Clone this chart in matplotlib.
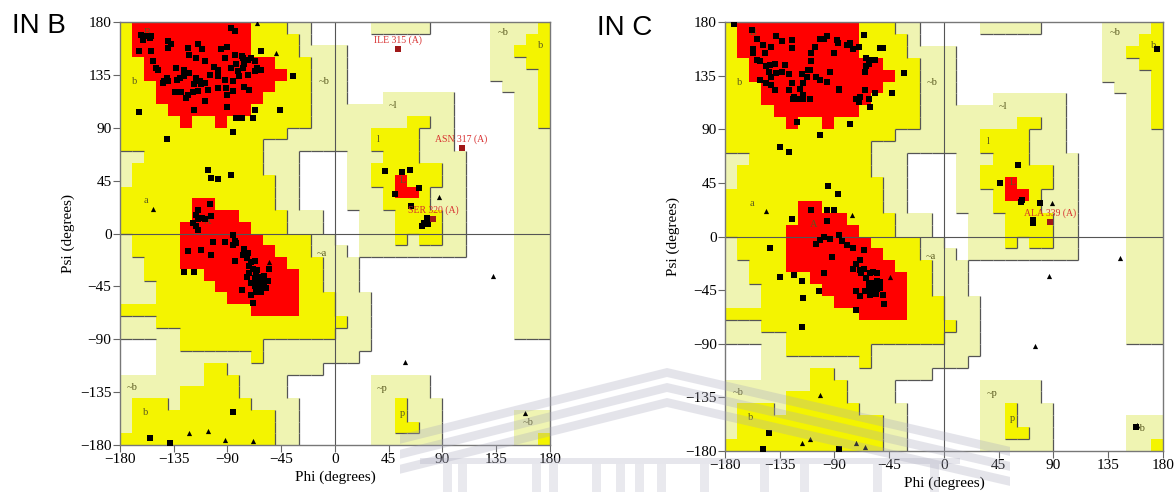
import numpy as np
import matplotlib.pyplot as plt
from matplotlib.colors import ListedColormap
from matplotlib.collections import LineCollection

# Ramachandran region map, 10 degree cells.
# top row is psi 170..180, columns run phi -180..180
# 0 disallowed, 1 generously allowed, 2 additionally allowed, 3 most favoured
region_rows = [
    "233333333332221100" "000111110000011112",
    "233333333332222100" "000000000000011122",
    "233333333332222111" "100000000000011222",
    "223333333333322211" "100000000000011122",
    "223333333333332211" "100000000000011112",
    "222333333333322211" "100000000000001112",
    "222333333333222211" "100011111100000112",
    "222233333332222211" "111111111100000112",
    "222223223222222211" "111111221100000112",
    "222222222222221111" "111222211100000111",
    "222222222222111111" "111222211100000111",
    "112222222222111000" "011122211110000111",
    "122222222222111000" "011222222110000111",
    "122222222222211000" "011223222110000111",
    "222222222222211000" "011123321110000111",
    "222222332222211000" "011122221110000111",
    "222222333322221110" "001112222110000111",
    "222223333332221110" "001112222110000111",
    "122223333333222211" "001112122110000111",
    "122223333333322211" "101111111110000111",
    "112223333333332221" "110000000000000111",
    "112222233333333221" "110000000000000111",
    "111222223333333221" "110000000000000111",
    "111222222333333222" "111000000000000111",
    "222222222223333222" "111000000000000111",
    "111222222222222222" "211000000000000111",
    "111112222222222222" "111000000000000111",
    "000112222222111111" "111000000000000000",
    "000111111112111111" "110000000000000000",
    "000111122111111110" "000000000000000000",
    "111111122211110000" "000111110000000000",
    "111112222211110000" "000111110000000000",
    "122212222221111000" "000112111000000000",
    "122222222222211000" "000112111000000111",
    "122222222222211000" "000112211000000111",
    "222222222222211000" "000111111000000112",
]
region_colors = ["#ffffff", "#eff4b2", "#f4f400", "#ff0000"]

# region letters (text, phi, psi)
region_text = ["B", "b", "~b", "a", "A", "~a", "~b", "b",
               "~l", "l", "L", "~b", "b", "~p", "p", "~b"]
region_phi = [-160, -170, -14, -160, -110, -15, -174, -161,
              45, 35, 54, 136, 170, 35, 54, 157]
region_psi = [171, 129, 129, 28, 10, -17, -131, -152,
              109, 80, 45, 171, 160, -132, -153, -161]

# IN B : residues (phi, psi)
b_squares = [
    (-162, 169), (-158, 168), (-155, 166), (-161, 165), (-154, 168), (-164, 155),
    (-154, 155), (-152, 147), (-150, 141), (-148, 139), (-143, 130), (-144, 128),
    (-140, 164), (-137, 161), (-140, 158), (-123, 158), (-115, 161), (-111, 157),
    (-122, 152), (-116, 149), (-109, 147), (-133, 141), (-126, 139), (-122, 137),
    (-116, 132), (-113, 130), (-112, 127), (-109, 128), (-118, 127), (-119, 120),
    (-115, 121), (-123, 118), (-129, 120), (-132, 131), (-134, 120), (-140, 130),
    (-141, 132), (-130, 132), (-126, 134), (-105, 135), (-98, 134), (-92, 131),
    (-91, 124), (-85, 130), (-85, 121), (-76, 125), (-72, 122), (-90, 118),
    (-98, 124), (-106, 122), (-109, 113), (-118, 105), (-125, 115), (-87, 175),
    (-84, 172), (-95, 157), (-90, 159), (-84, 152), (-78, 151), (-77, 149),
    (-73, 148), (-70, 149), (-67, 147), (-62, 155), (-65, 141), (-62, 139),
    (-67, 138), (-73, 135), (-76, 144), (-77, 141), (-81, 138), (-80, 134),
    (-101, 142), (-98, 139), (-87, 141), (-83, 144), (-92, 149), (-90, 108),
    (-83, 98), (-78, 98), (-69, 98), (-67, 105), (-46, 105), (-35, 134),
    (-164, 103), (-141, 80), (-85, 86), (-106, 54), (-104, 47), (-98, 46),
    (-87, 50), (-115, 20), (-116, 16), (-115, 12), (-119, 9), (-111, 13),
    (-109, 12), (-116, 6), (-105, 25), (-104, 15),
    (-115, 3), (-85, -1), (-84, -6), (-102, -7), (-92, -7), (-112, -14),
    (-104, -18), (-123, -15), (-126, -33), (-118, -33), (-84, -23), (-85, -10),
    (-83, -8), (-76, -13), (-73, -17), (-77, -18), (-74, -21), (-70, -24),
    (-67, -23), (-72, -28), (-69, -30), (-65, -31), (-72, -34), (-66, -35),
    (-63, -37), (-67, -38), (-62, -40), (-59, -41), (-65, -42), (-60, -44),
    (-63, -47), (-59, -45), (-67, -45), (-62, -50), (-66, -50), (-55, -30),
    (-78, -48), (-69, -59), (-70, -52), (-56, -40), (-70, -42), (-74, -37),
    (-62, -44), (-60, -40), (-64, -38), (-58, -46), (-65, -48), (-61, -42),
    (-57, -40), (-63, -50), (-59, -36), (-66, -42),
    (-85, -152), (-155, -174), (-138, -178),
    (42, 53), (56, 52), (63, 54), (50, 34), (70, 39), (64, 23),
    (77, 13), (73, 6), (78, 8), (75, 9),
]
b_triangles = [
    (-65, 179), (-49, 154), (-152, 21), (-122, -170), (-106, -168), (-92, -176),
    (-69, -177), (-55, -24), (87, 31), (132, -36), (59, -109), (159, -153),
]
b_label_names = ["ILE 315 (A)", "ASN 317 (A)", "SER 320 (A)"]
b_label_phi = [53, 106, 82]
b_label_psi = [157, 73, 12]

# IN C : residues (phi, psi)
c_squares = [
    (-173, 178), (-158, 173), (-154, 166), (-157, 157), (-157, 154), (-149, 161),
    (-142, 159), (-147, 154), (-154, 148), (-151, 147), (-146, 143), (-143, 144),
    (-139, 145), (-144, 138), (-142, 134), (-138, 137), (-133, 138), (-131, 144),
    (-138, 168), (-133, 164), (-125, 165), (-125, 158), (-151, 131), (-146, 129),
    (-142, 127), (-139, 123), (-127, 136), (-125, 129), (-127, 123), (-123, 117),
    (-118, 124), (-116, 129), (-117, 136), (-110, 140), (-109, 147), (-109, 154),
    (-106, 159), (-102, 166), (-99, 166), (-96, 168), (-88, 165), (-87, 162),
    (-90, 154), (-80, 161), (-77, 162), (-75, 157), (-70, 159), (-66, 169),
    (-64, 150), (-62, 145), (-65, 138), (-64, 143), (-61, 148), (-57, 148),
    (-53, 158), (-57, 120), (-62, 115), (-61, 109), (-70, 113), (-72, 115),
    (-69, 117), (-65, 123), (-86, 124), (-86, 123), (-94, 138), (-96, 130),
    (-105, 134), (-102, 131), (-110, 115), (-116, 115), (-120, 115), (-124, 115),
    (-116, 119), (-113, 134), (-112, 140), (-121, 96), (-102, 85), (-77, 94),
    (-50, 158), (-43, 120), (-33, 137), (-135, 75), (-127, 71), (-95, 42),
    (-87, 36), (-109, 22), (-96, 22), (-90, 22), (-96, 13), (-125, 15),
    (-143, -10), (-135, -34), (-123, -32), (-117, -37), (-116, -52), (-117, -76),
    (-103, -46), (-99, -31), (-92, -17), (-105, -6), (-102, -3), (-99, 0),
    (-94, -2), (-84, -4), (-80, -7), (-75, -10), (-66, -11), (-69, -20),
    (-72, -23), (-75, -27), (-69, -28), (-68, -31), (-64, -35), (-62, -39),
    (-59, -42), (-58, -45), (-55, -41), (-53, -43), (-57, -48), (-61, -49),
    (-65, -46), (-72, -46), (-69, -50), (-58, -30), (-55, -31), (-50, -49),
    (-49, -57), (-72, -62), (-86, 1), (-55, -37), (-61, -31), (-53, -38),
    (-66, -27), (-57, -42), (-59, -45), (-61, -43), (-55, -44), (-58, -39),
    (-60, -47), (-62, -41), (-56, -48),
    (-144, -165), (-149, -178), (-86, -178),
    (61, 60), (46, 45), (63, 29), (64, 31), (79, 28), (73, 14), (73, 11),
    (175, 157), (158, -160),
]
c_triangles = [
    (-146, 21), (-76, 18), (-102, -133), (-117, -173), (-110, -170), (-72, -173),
    (-65, -177), (-44, -34), (89, 28), (145, -18), (86, -33), (75, -92), (159, -158),
]
c_label_names = ["ALA 339 (A)"]
c_label_phi = [87]
c_label_psi = [12]

ticks = [-180, -135, -90, -45, 0, 45, 90, 135, 180]

serif = "Liberation Serif"
plt.rcParams['font.family'] = serif

grid = np.array([[int(ch) for ch in row] for row in region_rows])
edges = np.arange(-180, 181, 10)


def region_lines(g):
    segs = []
    n = g.shape[0]
    for lev in (1, 2):
        inside = g >= lev
        for r in range(n):
            top = 180 - 10 * r
            for k in range(n):
                left = -180 + 10 * k
                if not inside[r, k]:
                    continue
                if k + 1 < n and not inside[r, k + 1]:
                    segs.append([(left + 10, top - 10), (left + 10, top)])
                if r + 1 < n and not inside[r + 1, k]:
                    segs.append([(left, top - 10), (left + 10, top - 10)])
    return segs


def panel(ax, squares, triangles, names, lphi, lpsi):
    ax.pcolormesh(edges, edges, grid[::-1], cmap=ListedColormap(region_colors),
                  vmin=-0.5, vmax=3.5, shading='flat', zorder=0)
    ax.add_collection(LineCollection(region_lines(grid), colors='#555555',
                                     linewidths=0.9, zorder=1))
    ax.axhline(0, color='#555555', lw=0.8, zorder=1)
    ax.axvline(0, color='#555555', lw=0.8, zorder=1)
    for t, x, y in zip(region_text, region_phi, region_psi):
        ax.text(x, y, t, fontsize=7.5, color='#5a5a20', ha='left', va='center', zorder=2)
    sq = np.array(squares)
    tr = np.array(triangles)
    ax.scatter(sq[:, 0], sq[:, 1], marker='s', s=13, color='black', lw=0, zorder=3)
    ax.scatter(tr[:, 0], tr[:, 1], marker='^', s=14, color='black', lw=0, zorder=3)
    ax.scatter(lphi, lpsi, marker='s', s=13, color='#a01818', lw=0, zorder=3)
    for nm, x, y in zip(names, lphi, lpsi):
        ax.annotate(nm, (x, y), xytext=(0, 3), textcoords='offset points',
                    ha='center', va='bottom', fontsize=7, color='#d83030', zorder=4)
    ax.set_xlim(-180, 180)
    ax.set_ylim(-180, 180)
    ax.set_xticks(ticks)
    ax.set_yticks(ticks)
    ax.tick_params(direction='out', length=5, width=0.8, color='#666666',
                   labelsize=11, pad=1)
    for s in ax.spines.values():
        s.set_color('#777777')
        s.set_linewidth(1)
    ax.set_xlabel('Phi (degrees)', fontsize=11, labelpad=3)
    ax.set_ylabel('Psi (degrees)', fontsize=11, labelpad=4)


fig = plt.figure(figsize=(11.76, 4.92), dpi=100)
ax1 = fig.add_axes([0.1020, 0.0955, 0.3656, 0.8598])
ax2 = fig.add_axes([0.6165, 0.0833, 0.3724, 0.8720])
panel(ax1, b_squares, b_triangles, b_label_names, b_label_phi, b_label_psi)
panel(ax2, c_squares, c_triangles, c_label_names, c_label_phi, c_label_psi)

fig.text(0.010, 0.948, 'IN B', fontsize=20, family='Liberation Sans', va='center')
fig.text(0.508, 0.944, 'IN C', fontsize=20, family='Liberation Sans', va='center')

# faint logo watermark across the lower part of the page (pixel coords)
wm = fig.add_axes([0, 0, 1, 1], zorder=10)
wm.set_xlim(0, 1176)
wm.set_ylim(492, 0)
wm.axis('off')
apex_x, apex_y = 667, 368
x_left, x_right = 400, 1010
y_left = apex_y + 0.25 * (apex_x - x_left)
y_right = apex_y + 0.23 * (x_right - apex_x)
for d in (0, 15, 30):
    xs = [x_left, apex_x, x_right, x_right, apex_x, x_left]
    ys = [y_left + d, apex_y + d, y_right + d, y_right + d + 9, apex_y + d + 9, y_left + d + 9]
    wm.fill(xs, ys, color='#a8a8bc', alpha=0.3, lw=0)
wm.fill([420, 960, 960, 420], [458, 458, 464, 464], color='#a8a8bc', alpha=0.28, lw=0)
for bx in [443, 458, 532, 549, 592, 616, 635, 657, 700, 760, 800, 873, 930]:
    wm.fill([bx, bx + 9, bx + 9, bx], [464, 464, 492, 492], color='#a8a8bc', alpha=0.25, lw=0)

fig.savefig('out.png', dpi=100)
